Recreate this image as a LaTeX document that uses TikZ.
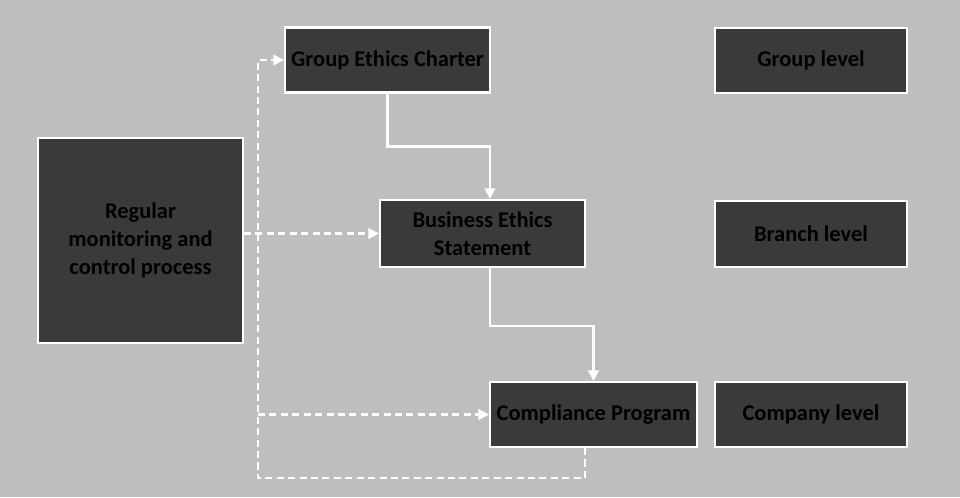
\documentclass[tikz,border=0pt]{standalone}
\usepackage{fontspec}
\setmainfont{Carlito}
\usetikzlibrary{positioning,arrows.meta}
\definecolor{bggray}{HTML}{BEBEBE}
\definecolor{boxgray}{HTML}{3A3A3A}

\begin{document}
\begin{tikzpicture}
    [x=0.02cm, y=-0.02cm,
    thick,
    box/.style={draw=white, line width=1.2pt, fill=boxgray, text=black,
        font=\bfseries\fontsize{12.8}{16}\selectfont, align=center,
        minimum width=4.1cm, minimum height=1.3cm, inner sep=2pt},
    levelbox/.style={box, minimum width=3.84cm},
    flow/.style={draw=white, line width=1.3pt, -{Triangle[width=6pt,length=6pt]}},
    feedback/.style={flow, dash pattern=on 4pt off 2.5pt}]
        \fill[bggray] (0,0) rectangle (960,497);
        %% documents
        \node[box] (charter) at (387.5,60) {Group Ethics Charter};
        \node[box, minimum height=1.34cm] (ethics) at (482.5,233.5) {Business Ethics\\Statement};
        \node[box, minimum width=4.14cm] (program) at (593.5,414.5) {Compliance Program};
        \node[box, minimum height=4.1cm] (monitor) at (140.5,240.5) {Regular\\monitoring and\\control process};
        %% levels
        \node[levelbox] (group) at (811,60.5) {Group level};
        \node[levelbox, minimum height=1.32cm] (branch) at (811,234) {Branch level};
        \node[levelbox] (company) at (811,414.5) {Company level};
        \coordinate (corner) at (258,478);

        \draw[flow] (charter.south) -- ++(0,53) -| ([xshift=0.15cm]ethics.north);
        \draw[flow] ([xshift=0.15cm]ethics.south) -- ++(0,58) -| (program.north);
        \draw[feedback] (monitor.east |- ethics.west) -- (ethics.west);
        \draw[feedback] ([xshift=-0.17cm]program.south) |- (corner) |- (charter.west);
        \draw[feedback] (corner |- program.west) -- (program.west);
    \end{tikzpicture}
\end{document}
